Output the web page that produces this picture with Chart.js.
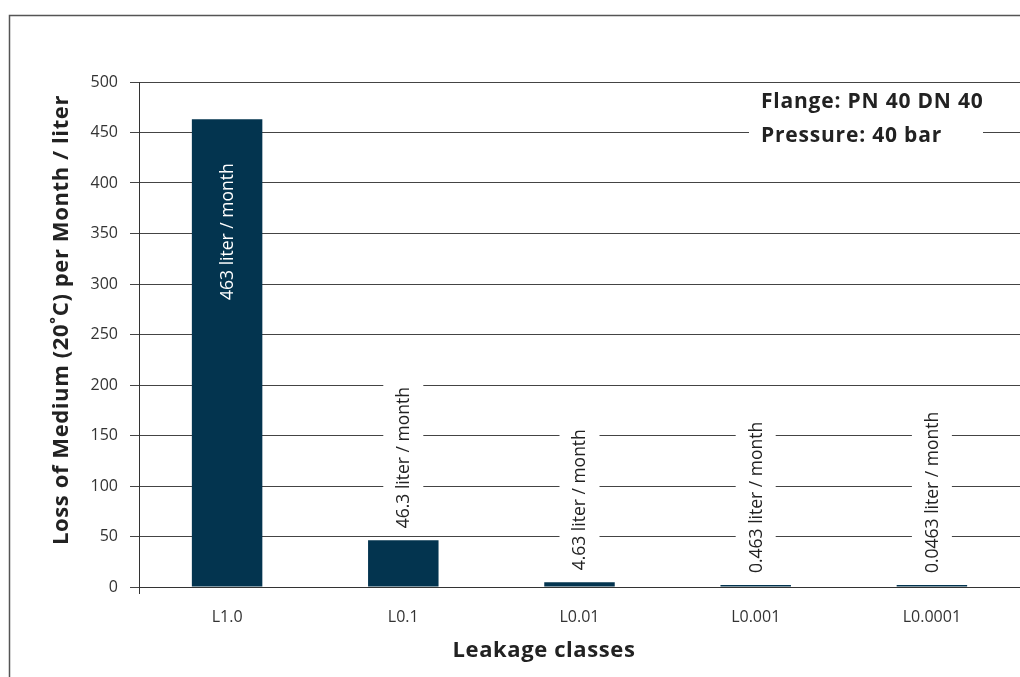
<!DOCTYPE html>
<html>
<head>
<meta charset="utf-8">
<script src="https://cdn.jsdelivr.net/npm/chart.js@4/dist/chart.umd.min.js"></script>
<style>
  html, body { margin: 0; padding: 0; background: #fff; }
  #wrap { width: 1020px; height: 677px; position: relative; }
</style>
</head>
<body>
<div id="wrap"><canvas id="leakChart" width="1020" height="677"></canvas></div>
<script>
// leakage classes and monthly loss in liter
const classes = ['L1.0', 'L0.1', 'L0.01', 'L0.001', 'L0.0001'];
const lossValues = [463, 46.3, 4.63, 0.463, 0.0463];
const barLabels = ['463 liter / month', '46.3 liter / month', '4.63 liter / month', '0.463 liter / month', '0.0463 liter / month'];
const yTicks = [0, 50, 100, 150, 200, 250, 300, 350, 400, 450, 500];
const noteLines = ['Flange: PN 40 DN 40', 'Pressure: 40 bar'];
const yTitle = 'Loss of Medium (20˚C) per Month / liter';
const xTitle = 'Leakage classes';

const FONT = "'Open Sans', 'DejaVu Sans', sans-serif";
const barColor = '#03344f';

// frame, axis titles, note box and rotated value labels
const extrasPlugin = {
  id: 'extras',
  beforeDraw(chart) {
    const ctx = chart.ctx;
    ctx.save();
    ctx.fillStyle = '#fff';
    ctx.fillRect(0, 0, chart.width, chart.height);
    ctx.strokeStyle = '#555';
    ctx.lineWidth = 1.5;
    ctx.beginPath();
    ctx.moveTo(9.5, 677);
    ctx.lineTo(9.5, 15.5);
    ctx.lineTo(1020, 15.5);
    ctx.stroke();
    ctx.restore();
  },
  afterDatasetsDraw(chart) {
    const ctx = chart.ctx;
    const area = chart.chartArea;
    const meta = chart.getDatasetMeta(0);
    ctx.save();

    // small extension of the y axis below zero
    ctx.strokeStyle = '#333';
    ctx.lineWidth = 1;
    ctx.beginPath();
    ctx.moveTo(Math.round(area.left) + 0.5, area.bottom);
    ctx.lineTo(Math.round(area.left) + 0.5, area.bottom + 7);
    ctx.stroke();

    ctx.font = '17.5px ' + FONT;
    ctx.textBaseline = 'middle';
    meta.data.forEach((bar, i) => {
      const w = ctx.measureText(barLabels[i]).width;
      ctx.save();
      ctx.translate(bar.x, bar.y);
      ctx.rotate(-Math.PI / 2);
      if (i === 0) {
        ctx.fillStyle = '#fff';
        ctx.textAlign = 'right';
        ctx.fillText(barLabels[i], -44, 1);
      } else {
        ctx.fillStyle = '#fff';
        ctx.fillRect(10, -20, w + 6, 40);
        ctx.fillStyle = '#222';
        ctx.textAlign = 'left';
        ctx.fillText(barLabels[i], 12, 1);
      }
      ctx.restore();
    });

    // note box
    ctx.fillStyle = '#fff';
    ctx.fillRect(749, 90, 234, 62);
    ctx.fillStyle = '#222';
    ctx.font = 'bold 21px ' + FONT;
    ctx.letterSpacing = '0.8px';
    ctx.textAlign = 'left';
    ctx.fillText(noteLines[0], 761, 102);
    ctx.fillText(noteLines[1], 761, 136);

    // axis titles
    ctx.font = 'bold 22px ' + FONT;
    ctx.letterSpacing = '0.6px';
    ctx.textAlign = 'center';
    ctx.fillText(xTitle, 544, 651);
    ctx.translate(62, 320);
    ctx.rotate(-Math.PI / 2);
    ctx.fillText(yTitle, 0, 0);
    ctx.restore();
  }
};

const ctx = document.getElementById('leakChart').getContext('2d');
new Chart(ctx, {
  type: 'bar',
  data: {
    labels: classes,
    datasets: [{
      data: lossValues,
      backgroundColor: barColor,
      borderWidth: 0,
      minBarLength: 2,
      categoryPercentage: 1,
      barPercentage: 0.4
    }]
  },
  options: {
    responsive: false,
    animation: false,
    layout: { padding: { left: 30, top: 82, right: -6, bottom: 0 } },
    plugins: { legend: { display: false }, tooltip: { enabled: false } },
    scales: {
      x: {
        grid: { display: false },
        border: { color: '#333', width: 1 },
        ticks: { color: '#333', font: { family: FONT, size: 16 }, padding: 13, maxRotation: 0 },
        afterFit(scale) { scale.height = 90; }
      },
      y: {
        min: 0,
        max: 500,
        afterBuildTicks(scale) { scale.ticks = yTicks.map(v => ({ value: v })); },
        grid: { color: '#444', lineWidth: 1, tickLength: 9, drawTicks: true },
        border: { color: '#333', width: 1 },
        ticks: { color: '#333', font: { family: FONT, size: 16 }, padding: 12 },
        afterFit(scale) { scale.width = 109; }
      }
    }
  },
  plugins: [extrasPlugin]
});
</script>
</body>
</html>
